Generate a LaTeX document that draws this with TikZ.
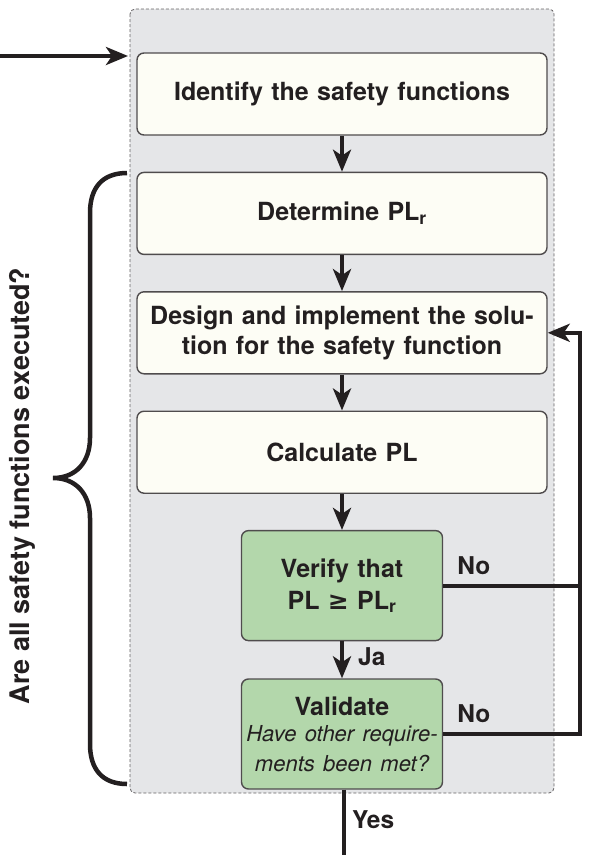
\documentclass[tikz,border=0pt]{standalone}
\usepackage{fontspec}
\setmainfont{TeX Gyre Heros}
\newfontfamily\glyphfont{DejaVu Sans}
\usepackage{tikz}
\usetikzlibrary{calc,positioning,arrows.meta,backgrounds}
\definecolor{ink}{HTML}{231F20}
\definecolor{cream}{HTML}{FDFDF5}
\definecolor{leaf}{HTML}{B3D7AB}
\definecolor{panelgrey}{HTML}{E5E6E8}
\tikzstyle{process}  = [rectangle, rounded corners=7pt, draw=ink!80, line width=1.4pt, fill=cream,
                        minimum width=410pt, minimum height=82pt, text width=400pt, align=center,
                        text=ink, font=\fontsize{25}{30}\selectfont\bfseries]
\tikzstyle{decision} = [process, fill=leaf, minimum width=201pt, minimum height=110pt,
                        inner xsep=1pt, text width=199pt]
\tikzstyle{arrow}    = [line width=4pt, draw=ink, -{Stealth[length=22pt,width=18pt,inset=6pt]}]
\tikzstyle{flow}     = [line width=4pt, draw=ink]
\tikzstyle{tag}      = [text=ink, inner sep=0pt, font=\fontsize{24.5}{29}\selectfont\bfseries]

\begin{document}
\begin{tikzpicture}[x=1pt, y=-1pt,
		panel/.style={draw=ink!70, fill=panelgrey, dashed, dash pattern=on 3pt off 2pt,
				line width=0.8pt, rounded corners=5pt},
		bracket/.style={line width=4.5pt, draw=ink}]
	\useasboundingbox (0,0) rectangle (594,855);

	\node[process] (identify) at (342,94) {Identify the safety functions};
	\node[process, below=36pt of identify] (determine) {Determine PL\textsubscript{r}};
	\node[process, below=36pt of determine] (design) {Design and implement the solu-\\tion for the safety function};
	\node[process, below=36pt of design] (calculate) {Calculate PL};
	\node[decision, below=36pt of calculate] (verify) {Verify that\\[2pt]PL {\glyphfont ≥} PL\textsubscript{r}};
	\node[decision, below=37pt of verify] (validate) {Validate\\{\fontsize{22}{26}\selectfont\mdseries\itshape Have other require-\\ments been met?}};

	\begin{scope}[on background layer]
		\draw[panel] (130,9) rectangle (554,793);
	\end{scope}

	\coordinate (entry) at (0,56);
	\coordinate (entrytip) at (128,56);
	\coordinate (rail) at (580,0);
	\coordinate (exit) at (344,855);

	\draw[arrow] (entry) -- (entrytip);
	\foreach \from/\to in {identify/determine, determine/design, design/calculate,
			calculate/verify, verify/validate}
	\draw[arrow] (\from) -- (\to);

	\draw[flow] (verify.east) -- (verify.east -| rail);
	\draw[arrow] (validate.east) -- (validate.east -| rail) |- (design.east);
	\draw[flow] (validate.south -| exit) -- (exit);

	\node[tag, anchor=base west] (noverify) at ([xshift=14pt, yshift=11pt]verify.east) {No};
	\node[tag, anchor=base west] (novalidate) at ([xshift=14pt, yshift=12pt]validate.east) {No};
	\node[tag, anchor=west] (ja) at ([xshift=16pt, yshift=3pt]$(verify.south)!0.5!(validate.north)$) {Ja};
	\node[tag, anchor=west] (yes) at ([xshift=10pt, yshift=-30pt]validate.south) {Yes};

	\draw[bracket] (127,173) .. controls (102,173) and (90,188) .. (90,213)
		-- (90,438) .. controls (90,462) and (76,478) .. (53,478)
		.. controls (76,478) and (90,494) .. (90,518)
		-- (90,744) .. controls (90,769) and (102,784) .. (127,784);
	\node[tag, rotate=90, anchor=base, font=\fontsize{27}{32}\selectfont\bfseries] (question) at (30,486) {Are all safety functions executed?};
\end{tikzpicture}
\end{document}
